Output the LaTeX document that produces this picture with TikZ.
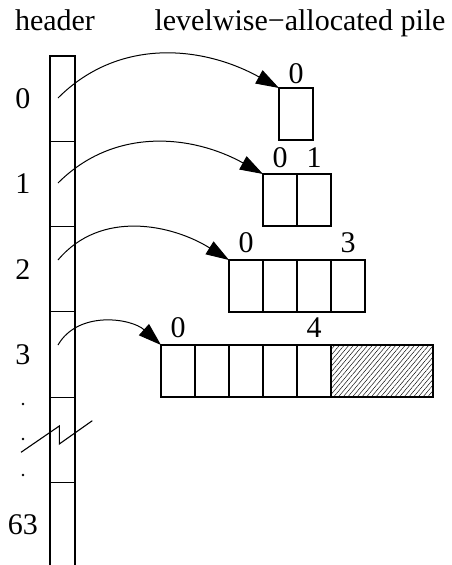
\documentclass[tikz,border=0pt]{standalone}
\usepackage{fontspec}
\setmainfont{Liberation Serif}
\usetikzlibrary{arrows.meta, positioning, patterns.meta}

\begin{document}
\begin{tikzpicture}[
  x=1pt, y=1pt,
  cell/.style={
    rectangle, draw, line width=1.1pt,
    minimum width=34pt, minimum height=52pt,
    inner sep=0pt, outer sep=0pt
  },
  hcell/.style={
    rectangle, draw, line width=1.1pt,
    minimum width=25pt, minimum height=85.3pt,
    inner sep=0pt, outer sep=0pt
  },
  idx/.style={font=\fontsize{30}{32}\selectfont, inner sep=0pt},
  ptr/.style={-{Triangle[length=23pt,width=15pt]}, line width=1pt}
]
\useasboundingbox (0,0) rectangle (451,-565);
\clip (0,0) rectangle (451,-565);

% --- Titles ---
\node[idx, anchor=base] (thead) at (55,-30)  {header};
\node[idx, anchor=base] (tpile) at (300,-30) {levelwise−allocated pile};

% --- Header column ---
\node[hcell] (h0) at (62.5,-98.65) {};
\foreach \i [count=\j from 0] in {1,...,5}
  \node[hcell, below=0pt of h\j] (h\i) {};

\node[idx] (n0)  at (23,0 |- h0) {0};
\node[idx] (n1)  at (23,0 |- h1) {1};
\node[idx] (n2)  at (23,0 |- h2) {2};
\node[idx] (n3)  at (23,0 |- h3) {3};
\node[idx] (n63) at (23,0 |- h5) {63};

% dots and break
\foreach \y in {404,439,475}
  \fill (23,-\y) circle (1.4pt);
\draw[line width=1.1pt] (21,-452.3) -- (59.3,-426) -- (59.3,-444) -- (92.3,-420.7);

% --- Row 0: one block ---
\node[cell] (r0c0) at (296,-114) {};

% --- Row 1: two blocks ---
\node[cell] (r1c0) at (280,-200) {};
\node[cell, right=0pt of r1c0] (r1c1) {};

% --- Row 2: four blocks ---
\node[cell] (r2c0) at (246,-286) {};
\foreach \i [count=\j from 0] in {1,...,3}
  \node[cell, right=0pt of r2c\j] (r2c\i) {};

% --- Row 3: five blocks + unused space ---
\node[cell] (r3c0) at (178,-371) {};
\foreach \i [count=\j from 0] in {1,...,4}
  \node[cell, right=0pt of r3c\j] (r3c\i) {};
\node[cell, minimum width=102pt, right=0pt of r3c4,
      pattern={Lines[angle=50,distance=3.6pt,line width=0.45pt]}] (r3free) {};

% --- Index labels ---
\node[idx, anchor=base] (l0a) at ([yshift=5pt]r0c0.north) {0};
\node[idx, anchor=base] (l1a) at ([yshift=7pt]r1c0.north) {0};
\node[idx, anchor=base] (l1b) at ([yshift=7pt]r1c1.north) {1};
\node[idx, anchor=base] (l2a) at ([yshift=8pt]r2c0.north) {0};
\node[idx, anchor=base] (l2b) at ([yshift=8pt]r2c3.north) {3};
\node[idx, anchor=base] (l3a) at ([yshift=8pt]r3c0.north) {0};
\node[idx, anchor=base] (l3b) at ([yshift=8pt]r3c4.north) {4};

% --- Pointers ---
\coordinate (p0) at (58,-98);
\coordinate (p1) at (58,-183);
\coordinate (p2) at (58,-260);
\coordinate (p3) at (58,-345);
\draw[ptr] (p0) to[out=45,in=151] (r0c0.north west);
\draw[ptr] (p1) to[out=45,in=151] (r1c0.north west);
\draw[ptr] (p2) to[out=50,in=148] (r2c0.north west);
\draw[ptr] (p3) to[out=60,in=138] (r3c0.north west);

\end{tikzpicture}
\end{document}
